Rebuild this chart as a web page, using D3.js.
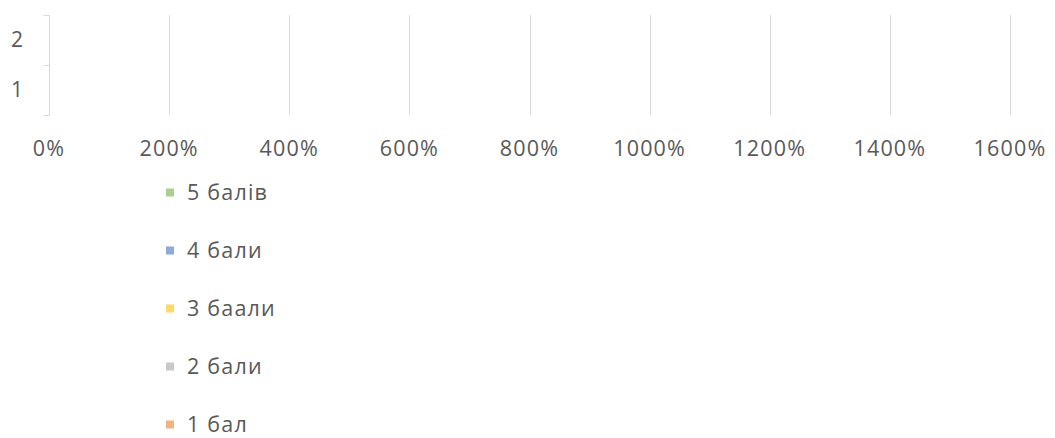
<!DOCTYPE html>
<html>
<head>
<meta charset="utf-8">
<script src="https://cdn.jsdelivr.net/npm/d3@7"></script>
<style>
  body { margin: 0; background: #fff; }
  svg text { font-family: "Open Sans", sans-serif; fill: #595959; }
</style>
</head>
<body>
<div id="chart"></div>
<script>
// categories on the y axis (bottom to top: 1, 2)
let categories = ["1", "2"];
// series, stacked left to right
let seriesNames = ["1 бал", "2 бали", "3 баали", "4 бали", "5 балів"];
let seriesColors = ["#f4b183", "#c9c9c9", "#ffd966", "#8faadc", "#a9d18e"];
// values per series for categories 1 and 2 (bars are not visible in the picture)
let s1 = [0, 0];
let s2 = [0, 0];
let s3 = [0, 0];
let s4 = [0, 0];
let s5 = [0, 0];
let xTicks = [0, 2, 4, 6, 8, 10, 12, 14, 16];

let width = 1055, height = 438;
let margin = {left: 49, right: 45, top: 15};
let plotHeight = 100;

let svg = d3.select("#chart").append("svg")
    .attr("width", width)
    .attr("height", height);

let x = d3.scaleLinear().domain([0, 16]).range([margin.left, width - margin.right]);
let y = d3.scaleBand().domain(categories.slice().reverse())
    .range([margin.top, margin.top + plotHeight])
    .paddingInner(0.5).paddingOuter(0.25);
let yEdge = d3.scaleLinear().domain([0, 2]).range([margin.top + plotHeight, margin.top]);

//gridlines
svg.append("g").selectAll("line")
    .data(xTicks.slice(1))
    .enter().append("line")
    .attr("x1", d => Math.round(x(d)) + 0.5)
    .attr("x2", d => Math.round(x(d)) + 0.5)
    .attr("y1", margin.top)
    .attr("y2", margin.top + plotHeight)
    .attr("stroke", "#d9d9d9")
    .attr("stroke-width", 1);

//stacked bars
let rows = categories.map((c, i) => {
    let r = {cat: c};
    [s1, s2, s3, s4, s5].forEach((s, j) => r[seriesNames[j]] = s[i]);
    return r;
});
let stack = d3.stack().keys(seriesNames)(rows);
svg.append("g").selectAll("g")
    .data(stack)
    .enter().append("g")
    .attr("fill", (d, i) => seriesColors[i])
    .selectAll("rect")
    .data(d => d)
    .enter().append("rect")
    .attr("x", d => x(d[0]))
    .attr("width", d => x(d[1]) - x(d[0]))
    .attr("y", d => y(d.data.cat))
    .attr("height", y.bandwidth());

//y axis with category boundary ticks
let axisX = Math.round(x(0)) + 0.5;
svg.append("line")
    .attr("x1", axisX).attr("x2", axisX)
    .attr("y1", margin.top).attr("y2", margin.top + plotHeight)
    .attr("stroke", "#d9d9d9");
svg.append("g").selectAll("line")
    .data([0, 1, 2])
    .enter().append("line")
    .attr("x1", axisX - 6).attr("x2", axisX)
    .attr("y1", d => Math.round(yEdge(d)) + 0.5)
    .attr("y2", d => Math.round(yEdge(d)) + 0.5)
    .attr("stroke", "#d9d9d9");
svg.append("g").selectAll("text")
    .data(categories)
    .enter().append("text")
    .attr("x", 17)
    .attr("y", d => y(d) + y.bandwidth() / 2)
    .attr("dy", "0.35em")
    .attr("text-anchor", "middle")
    .style("font-size", "21px")
    .text(d => d);

//x tick labels
svg.append("g").selectAll("text")
    .data(xTicks)
    .enter().append("text")
    .attr("x", d => x(d))
    .attr("y", 148)
    .attr("dy", "0.35em")
    .attr("text-anchor", "middle")
    .style("font-size", "21.5px")
    .style("letter-spacing", "1.2px")
    .text(d => d3.format(".0%")(d));

//legend, top entry is the last series
let legend = svg.append("g").selectAll("g")
    .data(seriesNames.slice().reverse())
    .enter().append("g")
    .attr("transform", (d, i) => "translate(166," + (192.5 + i * 58) + ")");
legend.append("rect")
    .attr("x", 0).attr("y", -4)
    .attr("width", 8).attr("height", 8)
    .attr("fill", d => seriesColors[seriesNames.indexOf(d)]);
legend.append("text")
    .attr("x", 21)
    .attr("dy", "0.35em")
    .style("font-size", "21.5px")
    .style("letter-spacing", "1.2px")
    .text(d => d);
</script>
</body>
</html>
